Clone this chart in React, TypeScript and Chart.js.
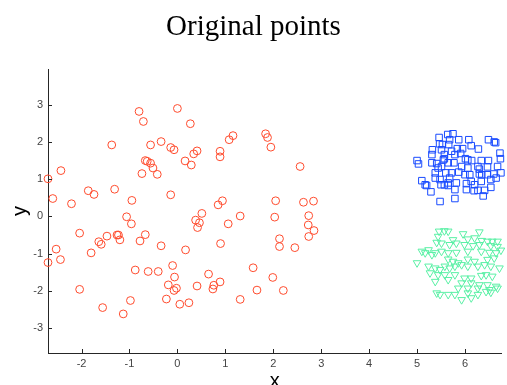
import React, { useEffect, useRef } from "react";
import { Chart, registerables } from "chart.js";

Chart.register(...registerables);

const TITLE = "Original points";
const X_LABEL = "x";
const Y_LABEL = "y";
const X_MIN = -2.7;
const X_MAX = 6.76;
const Y_MIN = -3.67;
const Y_MAX = 3.96;

// Red circles
const redPoints: [number, number][] = [
  [-2.70, 1.01], [-2.43, 1.23], [-2.60, 0.48], [-2.21, 0.34], [-1.86, 0.69], [-1.74, 0.59],
  [-1.37, 1.92], [-1.31, 0.73], [-0.95, 0.43], [-1.06, -0.01], [-0.80, 2.82], [-0.71, 2.55],
  [-0.67, 1.50], [-0.63, 1.48], [-0.56, 1.43], [-0.51, 1.30], [-0.42, 1.13], [-0.74, 1.15],
  [-0.56, 1.92], [-0.34, 2.01], [0.00, 2.90], [-0.14, 1.85], [-0.07, 1.79], [-0.14, 0.58],
  [0.27, 2.49], [0.16, 1.49], [0.29, 1.38], [0.34, 1.68], [0.41, 1.76], [0.51, 0.08],
  [0.38, -0.10], [0.89, 1.75], [0.89, 1.60], [1.08, 2.06], [1.16, 2.17], [0.94, 0.42],
  [0.85, 0.31], [1.31, 0.01],
  [-2.70, -1.24], [-2.53, -0.88], [-2.44, -1.16], [-2.04, -0.45], [-2.04, -1.96], [-1.80, -0.98],
  [-1.64, -0.68], [-1.59, -0.75], [-1.47, -0.53], [-1.56, -2.45], [-1.26, -0.50], [-1.23, -0.50],
  [-1.20, -0.63], [-1.13, -2.62], [-0.98, -2.26], [-0.96, -0.20], [-0.88, -1.44], [-0.78, -0.66],
  [-0.67, -0.49], [-0.61, -1.48], [-0.40, -1.48], [-0.34, -0.79], [-0.23, -2.22], [-0.19, -1.84],
  [-0.10, -1.32], [-0.06, -1.63], [-0.07, -1.99], [-0.02, -1.93], [0.05, -2.36], [0.17, -0.90],
  [0.24, -2.32], [0.41, -1.87], [0.42, -0.30], [0.46, -0.17], [0.65, -1.55], [0.74, -1.95],
  [0.76, -1.85], [0.89, -1.76], [0.90, -0.73], [1.06, -0.20], [1.31, -2.23], [1.58, -1.38],
  [1.66, -1.98],
  [1.84, 2.22], [1.88, 2.12], [1.95, 1.86], [2.56, 1.34], [2.05, 0.42], [2.63, 0.38],
  [2.84, 0.41], [2.03, -0.02], [2.74, 0.02],
  [2.73, -0.23], [2.85, -0.38], [2.74, -0.54], [2.13, -0.60], [2.13, -0.81], [2.45, -0.84],
  [1.99, -1.64], [2.21, -1.99],
];

// Blue squares
const bluePoints: [number, number][] = [
  [5.46, 2.12], [5.64, 2.20], [5.75, 2.22], [5.68, 2.06], [5.87, 2.06], [6.08, 2.06],
  [6.49, 2.06], [6.61, 2.00], [6.64, 1.98], [5.47, 1.95], [5.53, 1.93], [5.66, 1.93],
  [6.13, 1.90], [6.28, 1.81], [5.95, 1.82], [5.84, 1.82], [5.32, 1.79], [5.51, 1.79],
  [5.72, 1.75], [5.31, 1.66], [5.57, 1.66], [5.57, 1.55], [5.79, 1.66], [5.91, 1.69],
  [6.01, 1.55], [6.14, 1.50], [6.34, 1.50], [6.49, 1.50], [6.73, 1.70], [6.74, 1.55],
  [5.00, 1.50], [5.03, 1.41], [5.31, 1.44], [5.41, 1.42], [5.65, 1.44], [5.77, 1.44],
  [5.93, 1.34], [6.06, 1.30], [6.27, 1.34], [6.47, 1.33], [6.68, 1.34], [5.44, 1.30],
  [5.51, 1.34], [5.60, 1.17], [5.38, 1.17], [5.72, 1.17], [5.87, 1.19], [6.10, 1.12],
  [6.30, 1.14], [6.35, 1.12], [6.60, 1.14], [6.75, 1.17], [5.10, 0.96], [5.17, 0.85],
  [5.20, 0.83], [5.38, 1.03], [5.50, 0.85], [5.57, 0.85], [5.65, 0.90], [5.82, 0.90],
  [6.03, 0.88], [6.20, 0.85], [6.34, 0.94], [6.54, 0.99], [6.65, 1.03], [5.29, 0.66],
  [5.48, 0.99], [5.65, 0.83], [5.79, 0.72], [6.03, 0.72], [6.19, 0.69], [6.27, 0.70],
  [6.41, 0.70], [6.54, 0.78], [6.38, 0.55], [5.48, 0.40], [5.79, 0.48],
  [5.55, 1.52], [6.06, 1.52], [6.30, 1.27], [5.68, 1.03], [6.13, 0.94], [6.00, 1.12],
  [6.47, 1.12],
];

// Green down-triangles
const greenPoints: [number, number][] = [
  [5.46, -0.40], [5.57, -0.39], [5.65, -0.40], [5.96, -0.47], [6.30, -0.42], [5.44, -0.54],
  [5.75, -0.63], [6.06, -0.61], [6.20, -0.58], [6.35, -0.65], [6.47, -0.67], [6.57, -0.67],
  [6.68, -0.67], [5.41, -0.70], [5.51, -0.72], [5.68, -0.76], [5.82, -0.72], [5.99, -0.76],
  [6.17, -0.79], [6.30, -0.76], [6.54, -0.79], [6.68, -0.81], [5.10, -0.94], [5.17, -0.98],
  [5.24, -0.90], [5.38, -0.98], [5.51, -0.94], [5.65, -0.98], [5.82, -0.97], [6.06, -0.94],
  [6.34, -0.94], [6.51, -0.97], [6.65, -0.98], [6.75, -0.91], [5.00, -1.25], [5.31, -1.03],
  [5.65, -1.15], [5.75, -1.21], [5.86, -1.25], [6.06, -1.15], [6.20, -1.21], [6.47, -1.16],
  [6.61, -1.12], [5.24, -1.34], [5.38, -1.39], [5.48, -1.43], [5.58, -1.34], [5.68, -1.39],
  [5.79, -1.34], [5.93, -1.30], [6.06, -1.34], [6.27, -1.34], [6.41, -1.30], [6.54, -1.34],
  [6.72, -1.39], [5.27, -1.52], [5.44, -1.57], [5.58, -1.57], [5.79, -1.57], [5.99, -1.66],
  [6.13, -1.66], [6.34, -1.59], [6.44, -1.57], [6.57, -1.61], [5.38, -1.75], [5.65, -1.70],
  [5.93, -1.79], [6.13, -1.79], [6.30, -1.84], [6.47, -1.84], [6.65, -1.88], [5.86, -1.93],
  [6.06, -1.93], [6.27, -1.93], [6.51, -1.97], [6.68, -1.93], [5.41, -2.06], [5.48, -2.10],
  [5.65, -2.10], [5.79, -2.10], [6.06, -2.06], [6.27, -2.10], [6.44, -2.02], [6.54, -2.04],
  [5.93, -2.24], [6.13, -2.19],
];

const toXY = (arr: [number, number][]) => arr.map(([x, y]) => ({ x, y }));

const AXIS_COLOR = "#262626";
const TICK_COLOR = "#444444";

const inwardTicks = {
  id: "inwardTicks",
  afterDraw(chart: any) {
    const { ctx, chartArea, scales } = chart;
    ctx.save();
    ctx.strokeStyle = AXIS_COLOR;
    ctx.lineWidth = 1;
    ctx.beginPath();
    scales.x.ticks.forEach((t: any) => {
      const p = Math.round(scales.x.getPixelForValue(t.value)) + 0.5;
      ctx.moveTo(p, chartArea.bottom);
      ctx.lineTo(p, chartArea.bottom - 4);
    });
    scales.y.ticks.forEach((t: any) => {
      const p = Math.round(scales.y.getPixelForValue(t.value)) + 0.5;
      ctx.moveTo(chartArea.left, p);
      ctx.lineTo(chartArea.left + 4, p);
    });
    ctx.stroke();
    ctx.restore();
  },
};

export default function App() {
  const ref = useRef<HTMLCanvasElement | null>(null);

  useEffect(() => {
    if (!ref.current) return;
    const chart = new Chart(ref.current, {
      type: "scatter",
      data: {
        datasets: [
          {
            label: "red",
            data: toXY(redPoints),
            pointStyle: "circle",
            pointRadius: 3.9,
            borderWidth: 1,
            borderColor: "rgb(255,75,45)",
            backgroundColor: "rgba(0,0,0,0)",
            clip: false,
          },
          {
            label: "blue",
            data: toXY(bluePoints),
            pointStyle: "rect",
            pointRadius: 4.6,
            borderWidth: 1,
            borderColor: "rgb(25,75,255)",
            backgroundColor: "rgba(0,0,0,0)",
            clip: false,
          },
          {
            label: "green",
            data: toXY(greenPoints),
            pointStyle: "triangle",
            rotation: 180,
            pointRadius: 4.4,
            borderWidth: 1,
            borderColor: "rgb(90,240,165)",
            backgroundColor: "rgba(0,0,0,0)",
            clip: false,
          },
        ] as any,
      },
      options: {
        animation: false,
        responsive: false,
        events: [],
        layout: { padding: 0 },
        plugins: {
          legend: { display: false },
          tooltip: { enabled: false },
          title: {
            display: true,
            text: TITLE,
            color: "#000",
            font: { family: "'Liberation Serif', 'Times New Roman', serif", size: 29, weight: "normal", lineHeight: 1.2 },
            padding: { top: 9.8, bottom: 24.4 },
          },
        },
        scales: {
          x: {
            type: "linear",
            min: X_MIN,
            max: X_MAX,
            grid: { display: false, drawTicks: false },
            border: { display: true, color: AXIS_COLOR, width: 1 },
            ticks: {
              stepSize: 1,
              includeBounds: false,
              color: TICK_COLOR,
              padding: 4,
              font: { family: "'Liberation Sans', Arial, sans-serif", size: 11 },
            },
            title: {
              display: true,
              text: X_LABEL,
              color: "#000",
              font: { family: "'Liberation Sans', Arial, sans-serif", size: 20 },
              padding: { top: 0, bottom: -8 },
            },
            afterFit: (s: any) => {
              s.height = 32;
            },
          },
          y: {
            type: "linear",
            min: Y_MIN,
            max: Y_MAX,
            grid: { display: false, drawTicks: false },
            border: { display: true, color: AXIS_COLOR, width: 1 },
            ticks: {
              stepSize: 1,
              includeBounds: false,
              color: TICK_COLOR,
              padding: 5,
              font: { family: "'Liberation Sans', Arial, sans-serif", size: 11 },
            },
            title: {
              display: true,
              text: Y_LABEL,
              color: "#000",
              font: { family: "'Liberation Sans', Arial, sans-serif", size: 20 },
              padding: { top: 8, bottom: 0 },
            },
            afterFit: (s: any) => {
              s.width = 48;
            },
          },
        },
      } as any,
      plugins: [inwardTicks],
    });
    return () => chart.destroy();
  }, []);

  return (
    <div style={{ position: "absolute", left: 0, top: 0, width: 507, height: 385, background: "#fff" }}>
      <canvas ref={ref} width={507} height={385} />
    </div>
  );
}
